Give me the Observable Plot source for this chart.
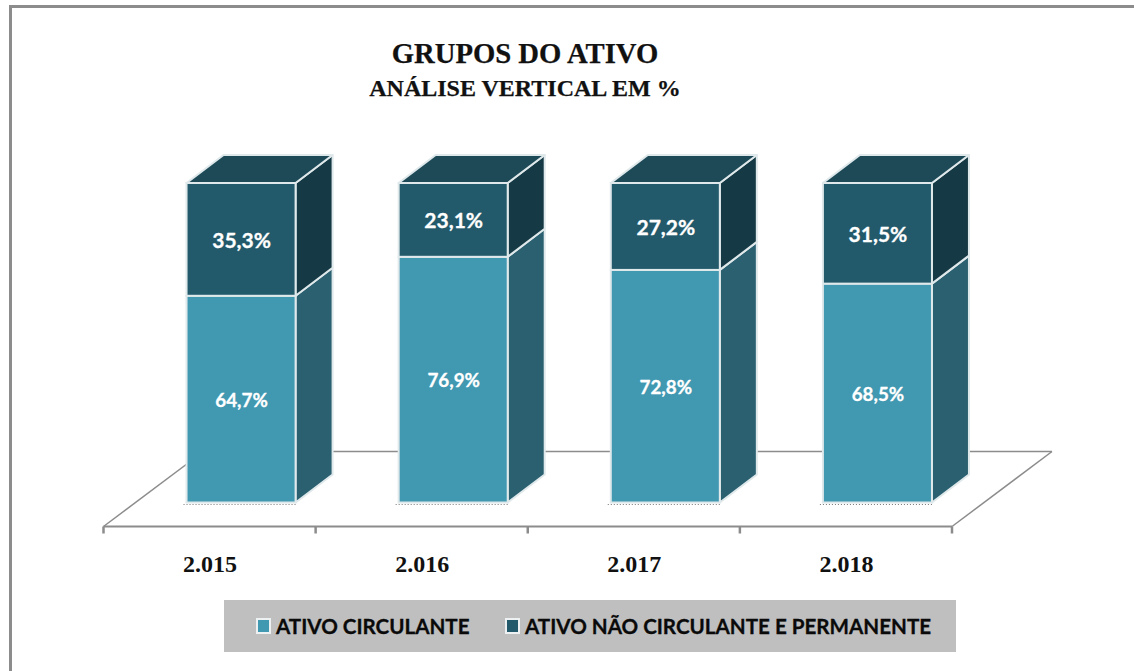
<!DOCTYPE html>
<html lang="pt">
<head>
<meta charset="utf-8">
<script src="https://cdn.jsdelivr.net/npm/d3@7"></script>
<script src="https://cdn.jsdelivr.net/npm/@observablehq/plot@0.6"></script>
<style>
html,body{margin:0;padding:0;background:#fff;overflow:hidden}
#page{position:relative;width:1134px;height:671px;box-sizing:border-box;overflow:hidden}
#page:before{content:"";position:absolute;left:9px;top:5px;width:1200px;height:800px;border:3px solid #8c8c8c;box-sizing:border-box}
.title{position:absolute;left:0;width:1050px;text-align:center;font-family:"Liberation Serif",serif;font-weight:700;color:#111;-webkit-text-stroke:.25px #111}
#t1{top:37px;font-size:28.7px;line-height:32px}
#t2{top:74px;font-size:24px;line-height:28px}
#chart{position:absolute;left:0;top:140px}
#legend{position:absolute;left:224px;top:600px;width:732px;height:52px;background:#bfbfbf;font-family:Lato,sans-serif;font-weight:700;font-size:20.6px;color:#0a0a0a;-webkit-text-stroke:.3px #0a0a0a}
#legend span{position:absolute;top:13px;line-height:26px;white-space:nowrap}
#legend i{position:absolute;top:18px;width:11px;height:12px;border:2px solid #eef1f2}
</style>
</head>
<body>
<div id="page">
  <div id="chart"></div>
  <div id="legend"></div>
</div>
<script>
const years = ["2.015", "2.016", "2.017", "2.018"];
const groups = ["ATIVO CIRCULANTE", "ATIVO NÃO CIRCULANTE E PERMANENTE"];
const circulante = [64.7, 76.9, 72.8, 68.5];
const naoCirculante = [35.3, 23.1, 27.2, 31.5];
const titleLines = ["GRUPOS DO ATIVO", "ANÁLISE VERTICAL EM %"];

const front = ["#4198b1", "#235a6b"];
const side = ["#2a6070", "#153a45"];
const topFace = "#1e4a58";
const edge = "#dfe8ea";
const axisGrey = "#8c8c8c";
const labelSizes = [18.8, 21];
const depth = {dx: 37, dy: -28};
const floor = {drop: 24, dx: 100, dy: -75};
const barShift = 31.5; // the blocks stand further back on the floor than their axis cell

const rows = years.flatMap((year, i) => [
  {year, group: groups[0], value: circulante[i], base: 0, k: 0},
  {year, group: groups[1], value: naoCirculante[i], base: circulante[i], k: 1}
]);
const fmt = v => v.toFixed(1).replace(".", ",") + "%";
const poly = pts => "M" + pts.map(p => p.join(",")).join("L") + "Z";

// floor plane and axis line, placed from the x and y scales
function floorMark(index, {x, y}) {
  const g = d3.create("svg:g");
  const step = x(years[1]) - x(years[0]);
  const left = x(years[0]) + x.bandwidth() / 2 - step / 2;
  const right = left + step * years.length;
  const y0 = y(0) + floor.drop;
  const line = (a, b, c, d, w = 1.5) => g.append("line").attr("x1", a).attr("y1", b).attr("x2", c).attr("y2", d)
    .attr("stroke", axisGrey).attr("stroke-width", w);
  line(left, y0, left + floor.dx, y0 + floor.dy);
  line(right, y0, right + floor.dx, y0 + floor.dy);
  line(left + floor.dx, y0 + floor.dy, right + floor.dx, y0 + floor.dy);
  line(left, y0, right, y0, 2);
  for (let i = 0; i <= years.length; ++i) line(left + i * step, y0, left + i * step, y0 + 7, 2.5);
  return g.node();
}

// side and top faces of each stacked block
function depthMark(index, {x, y}) {
  const g = d3.create("svg:g").attr("stroke", edge).attr("stroke-width", 2).attr("stroke-linejoin", "round");
  const {dx, dy} = depth;
  for (const r of rows) {
    const xl = x(r.year) + barShift, xr = xl + x.bandwidth();
    const yb = y(r.base), yt = y(r.base + r.value);
    if (r.k === 0) g.append("line").attr("x1", xl - 3).attr("x2", xr).attr("y1", yb + 2).attr("y2", yb + 2)
      .attr("stroke", "#777").attr("stroke-width", 1).attr("stroke-dasharray", "1 2");
    g.append("path").attr("fill", side[r.k])
      .attr("d", poly([[xr, yb], [xr + dx, yb + dy], [xr + dx, yt + dy], [xr, yt]]));
    if (r.k === 1) g.append("path").attr("fill", topFace)
      .attr("d", poly([[xl, yt], [xl + dx, yt + dy], [xr + dx, yt + dy], [xr, yt]]));
  }
  return g.node();
}

const chart = Plot.plot({
  width: 1134,
  height: 445,
  marginTop: 43,
  marginBottom: 59,
  marginLeft: 0,
  marginRight: 0,
  style: {background: "transparent", overflow: "visible"},
  x: {type: "band", domain: years, range: [103.5, 952], paddingInner: 0.486, paddingOuter: 0.243, round: false, label: null},
  y: {domain: [0, 100], range: [362.5, 43], label: null, axis: null},
  color: {domain: groups, range: front},
  marks: [
    floorMark,
    depthMark,
    Plot.barY(rows, {x: "year", y: "value", fill: "group", order: groups, stroke: edge, strokeWidth: 2, dx: barShift}),
    Plot.text(rows, Plot.stackY({
      x: "year", y: "value", z: "group", order: groups, text: d => fmt(d.value), dx: barShift, dy: 1,
      fill: "#fff", fontFamily: "Lato, sans-serif", fontWeight: 700, fontSize: d => labelSizes[d.k], stroke: "#fff", strokeWidth: 0.3
    })),
    Plot.axisX({
      anchor: "bottom", tickSize: 0, tickPadding: 28, label: null, lineWidth: 100,
      fontFamily: "Liberation Serif, serif", fontWeight: 700, fontSize: 24, fill: "#111"
    })
  ]
});
document.getElementById("chart").append(chart);

const page = document.getElementById("page");
titleLines.forEach((t, i) => {
  const d = document.createElement("div");
  d.id = "t" + (i + 1);
  d.className = "title";
  d.textContent = t;
  page.append(d);
});

const legend = document.getElementById("legend");
const swatchX = [32, 281];
const labelX = [52, 301];
groups.forEach((g, i) => {
  const sw = document.createElement("i");
  sw.style.left = swatchX[i] + "px";
  sw.style.background = front[i];
  legend.append(sw);
  const s = document.createElement("span");
  s.style.left = labelX[i] + "px";
  s.textContent = g;
  legend.append(s);
});
</script>
</body>
</html>
